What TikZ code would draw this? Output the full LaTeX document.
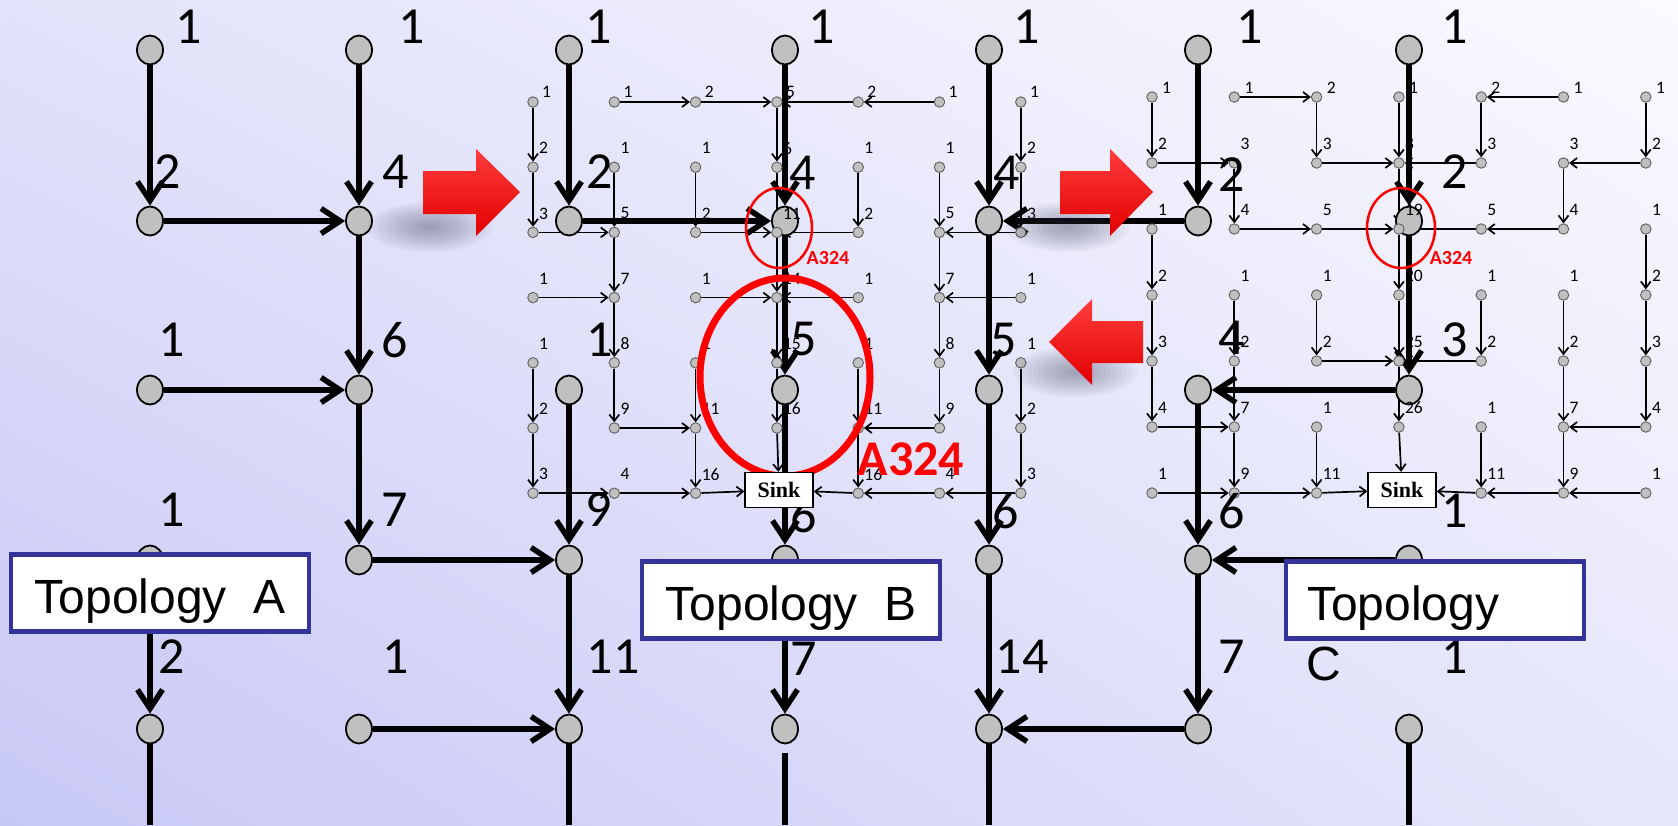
\documentclass[tikz,border=0pt]{standalone}
\usepackage{fontspec}
\setmainfont{Carlito}
\newfontfamily\arialf{Liberation Sans}
\newfontfamily\timesf{Liberation Serif}
\usetikzlibrary{arrows.meta,shapes.geometric,shadings}
\definecolor{nodegray}{RGB}{192,192,192}
\definecolor{smgray}{RGB}{95,95,95}
\definecolor{topoblue}{RGB}{51,51,153}
\definecolor{bgUL}{RGB}{226,226,250}
\definecolor{bgUR}{RGB}{250,250,255}
\definecolor{bgLL}{RGB}{200,200,246}
\definecolor{bgLR}{RGB}{230,230,251}
\definecolor{redlight}{RGB}{255,60,60}
\definecolor{reddark}{RGB}{225,0,0}
\definecolor{shadowc}{RGB}{60,60,90}
\pgfdeclarelayer{bgl}
\pgfdeclarelayer{edges}
\pgfsetlayers{bgl,edges,main}
\begin{document}
\begin{tikzpicture}[x=1pt,y=-1pt,
  bign/.style={ellipse, minimum width=26pt, minimum height=29pt, inner sep=0pt, fill=nodegray, draw=black, line width=1.8pt},
  smn/.style={circle, minimum size=10.5pt, inner sep=0pt, fill=nodegray, draw=smgray, line width=0.9pt},
  bigE/.style={line width=5.5pt, -{Straight Barb[length=19pt,width=25pt]}},
  bigL/.style={line width=5.5pt},
  smE/.style={line width=1.7pt, -{Straight Barb[length=6.5pt,width=10pt]}},
  blab/.style={font=\fontsize{52}{60}\selectfont, inner sep=0pt},
  slab/.style={font=\fontsize{17.5}{20}\selectfont, inner sep=0pt, anchor=west},
  sinkbox/.style={draw=black, fill=white, line width=1.3pt, minimum width=68pt, minimum height=35pt, inner sep=0pt, font=\timesf\bfseries\fontsize{22}{24}\selectfont},
  topo/.style={draw=topoblue, fill=white, line width=4.5pt, minimum width=298pt, minimum height=77pt, inner sep=0pt},
  toptext/.style={font=\arialf\fontsize{48}{56}\selectfont, inner sep=0pt},
  redtext/.style={text=red, inner sep=0pt, font=\bfseries\fontsize{#1}{#1}\selectfont},
  redarrow/.style={top color=redlight, middle color=red, bottom color=reddark}
]
\begin{pgfonlayer}{bgl}
\shade[upper left=bgUL, upper right=bgUR, lower left=bgLL, lower right=bgLR] (0,0) rectangle (1678,825);
\end{pgfonlayer}
\useasboundingbox (0,0) rectangle (1678,825);

% big nodes
\foreach \ci/\xx in {1/150,2/359,3/569,4/785,5/989,6/1198,7/1409}{
  \foreach \ri/\yy in {0/50,1/221,2/390,3/560,4/729}{
    \node[bign] (b\ci\ri) at (\xx,\yy) {};
  }
}
\foreach \ci/\xx in {1/150,3/569,4/785,5/989,7/1409}{
  \coordinate (e\ci) at (\xx,825);
}

% small grid B
\foreach \ri/\lbs in {0/{1,1,2,5,2,1,1},1/{2,1,1,6,1,1,2},2/{3,5,2,11,2,5,3},3/{1,7,1,14,1,7,1},4/{1,8,1,15,1,8,1},5/{2,9,11,16,11,9,2},6/{3,4,16,S,16,4,3}}{
  \foreach \lb [count=\ci from 0] in \lbs {
    \ifnum\numexpr\ri*10+\ci\relax=63\relax\else
      \pgfmathsetmacro\xx{533+81.3*\ci}
      \pgfmathsetmacro\yy{102+65.2*\ri}
      \node[smn] (p\ci\ri) at (\xx,\yy) {};
      \ifnum\ri=0
        \node[slab] (pl\ci\ri) at (\xx+9,\yy-10) {\lb};
      \else
        \node[slab] (pl\ci\ri) at (\xx+6,\yy-19) {\lb};
      \fi
    \fi
  }
}
% small grid C
\foreach \ri/\lbs in {0/{1,1,2,1,2,1,1},1/{2,3,3,8,3,3,2},2/{1,4,5,19,5,4,1},3/{2,1,1,20,1,1,2},4/{3,2,2,25,2,2,3},5/{4,7,1,26,1,7,4},6/{1,9,11,S,11,9,1}}{
  \foreach \lb [count=\ci from 0] in \lbs {
    \ifnum\numexpr\ri*10+\ci\relax=63\relax\else
      \pgfmathsetmacro\xx{1152+82.3*\ci}
      \pgfmathsetmacro\yy{97+66*\ri}
      \node[smn] (q\ci\ri) at (\xx,\yy) {};
      \ifnum\ri=0
        \node[slab] (ql\ci\ri) at (\xx+10,\yy-9) {\lb};
      \else
        \node[slab] (ql\ci\ri) at (\xx+6,\yy-19) {\lb};
      \fi
    \fi
  }
}

% big labels
\foreach \ci/\xx/\yy/\lb in {
  1/189/27/1, 2/412/27/1, 3/599/27/1, 4/822/27/1, 5/1027/27/1, 6/1250/27/1, 7/1455/27/1}{
  \node[blab] (l\ci0) at (\xx,\yy) {\lb};
}
\foreach \ci/\xx/\yy/\lb in {
  1/168/172/2, 2/396/172/4, 3/600/172/2, 4/803/173/4, 5/1007/173/4, 6/1232/175/2, 7/1455/172/2}{
  \node[blab] (l\ci1) at (\xx,\yy) {\lb};
}
\foreach \ci/\xx/\yy/\lb in {
  1/172/340/1, 2/395/340/6, 3/600/340/1, 4/804/339/5, 5/1004/340/5, 6/1232/338/4, 7/1455/340/3}{
  \node[blab] (l\ci2) at (\xx,\yy) {\lb};
}
\foreach \ci/\xx/\yy/\lb in {
  1/172/510/1, 2/395/510/7, 3/599/510/9, 4/804/515/6, 5/1006/511/6, 6/1232/511/6, 7/1455/511/1}{
  \node[blab] (l\ci3) at (\xx,\yy) {\lb};
}
\foreach \ci/\xx/\yy/\lb in {
  1/172/657/2, 2/396/657/1, 3/613/657/11, 4/804/659/7, 5/1022/657/14, 6/1232/657/7, 7/1455/657/1}{
  \node[blab] (l\ci4) at (\xx,\yy) {\lb};
}

\begin{pgfonlayer}{edges}
% big edges
\foreach \a/\b in {b10/b11, b11/b21, b20/b21, b21/b22, b12/b22, b22/b23, b23/b33, b13/b14, b24/b34, b33/b34,
  b30/b31, b31/b41, b40/b41, b41/b42, b32/b33, b42/b43, b43/b44,
  b50/b51, b61/b51, b60/b61, b51/b52, b52/b53, b53/b54, b64/b54, b70/b71, b71/b72, b72/b62, b62/b63, b63/b64, b73/b63}
  \draw[bigE] (\a) -- (\b);
\foreach \a/\b in {b14/e1, b34/e3, b54/e5, b74/e7}
  \draw[bigL] (\a) -- (\b);
\draw[bigL, shorten <=9pt] (b44) -- (e4);
\end{pgfonlayer}

% sinks
\node[sinkbox] (sinkB) at (779,490) {Sink};
\node[sinkbox] (sinkC) at (1402,490) {Sink};

\begin{pgfonlayer}{edges}
\foreach \a/\b in {p00/p01, p01/p02, p02/p12, p11/p12, p12/p13, p03/p13, p13/p14, p14/p15, p15/p25, p24/p25, p25/p26,
  p04/p05, p05/p06, p06/p16, p16/p26, p26/sinkB,
  p10/p20, p20/p30, p30/p31, p31/p32, p21/p22, p22/p32, p32/p33, p23/p33, p33/p34, p34/p35, p35/sinkB,
  p50/p40, p40/p30, p41/p42, p42/p32, p43/p33,
  p60/p61, p61/p62, p62/p52, p51/p52, p52/p53, p63/p53, p53/p54, p54/p55, p55/p45, p44/p45, p45/p46,
  p64/p65, p65/p66, p66/p56, p56/p46, p46/sinkB}
  \draw[smE] (\a) -- (\b);
\foreach \a/\b in {q00/q01, q01/q11, q11/q12, q12/q22, q22/q32,
  q10/q20, q20/q21, q21/q31, q30/q31, q31/q32,
  q50/q40, q40/q41, q41/q31,
  q60/q61, q61/q51, q51/q52, q52/q42, q42/q32,
  q32/q33, q33/q34, q23/q24, q24/q34, q43/q44, q44/q34, q34/q35, q35/sinkC,
  q02/q03, q03/q04, q04/q05, q05/q15, q13/q14, q14/q15, q15/q16, q06/q16, q16/q26, q25/q26, q26/sinkC,
  q62/q63, q63/q64, q64/q65, q65/q55, q53/q54, q54/q55, q55/q56, q66/q56, q56/q46, q45/q46, q46/sinkC}
  \draw[smE] (\a) -- (\b);
\end{pgfonlayer}

% red rings
\draw[red, line width=2.5pt] (779,228) ellipse (33 and 40);
\draw[red, line width=2.5pt] (1401,228) ellipse (34 and 40);
\draw[red, line width=7pt] (785,377) ellipse (85 and 99);
\node[redtext=20] (ra1) at (828,258) {A324};
\node[redtext=20] (ra2) at (1451,258) {A324};
\node[redtext=50] (ra3) at (911,459) {A324};
\node[sinkbox] (sinkB2) at (779,490) {Sink};

% topology boxes
\node[topo] (tA) at (160,593) {};
\node[topo] (tB) at (791,600) {};
\node[topo] (tC) at (1435,600) {};
\node[toptext, anchor=base] (tAt) at (160,613) {Topology~~A};
\node[toptext, anchor=base] (tBt) at (791,620) {Topology~~B};
\node[toptext, anchor=base west] (tCt) at (1307,620) {Topology};
\node[toptext, anchor=base] (tCc) at (1324,680) {C};

% shadows of red arrows
\foreach \sx/\sy in {430/227, 1068/227, 1075/372}{
  \foreach \k in {1,...,12}
    \fill[shadowc, opacity=0.04] (\sx,\sy) ellipse ({5.2*\k} and {2.1*\k});
}
% red arrows
\shade[redarrow]
  (423,171) -- (476,171) -- (476,149) -- (520,192) -- (476,236) -- (476,214) -- (423,214) -- cycle;
\shade[redarrow]
  (1060,171) -- (1110,171) -- (1110,149) -- (1153,192) -- (1110,236) -- (1110,214) -- (1060,214) -- cycle;
\shade[redarrow]
  (1143,321) -- (1092,321) -- (1092,299) -- (1049,342) -- (1092,385) -- (1092,363) -- (1143,363) -- cycle;
\end{tikzpicture}
\end{document}
